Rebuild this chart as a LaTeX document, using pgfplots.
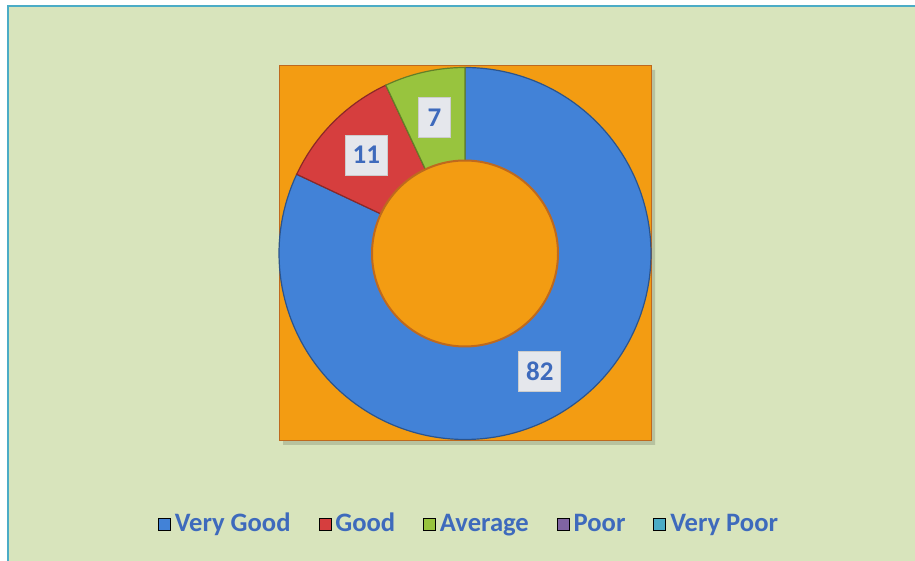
\documentclass[border=0pt]{standalone}
\usepackage{pgfplots}
\pgfplotsset{compat=1.18}
\usepackage{fontspec}
\setmainfont{Carlito}

\definecolor{bggreen}{RGB}{216,228,188}
\definecolor{frameteal}{RGB}{75,172,198}
\definecolor{plotorange}{RGB}{243,156,18}
\definecolor{orangeedge}{RGB}{190,105,30}
\definecolor{vgblue}{RGB}{66,130,215}
\definecolor{gred}{RGB}{214,62,62}
\definecolor{agreen}{RGB}{152,196,62}
\definecolor{ppurple}{RGB}{128,100,162}
\definecolor{vpcyan}{RGB}{75,172,198}
\definecolor{txtblue}{RGB}{62,106,188}
\definecolor{boxgray}{RGB}{229,231,236}

% values (percent), clockwise from 12 o'clock
\def\vVG{82}
\def\vG{11}
\def\vA{7}
% donut geometry in pixel units
\def\cx{465}
\def\cy{307.5}
\def\ro{186}
\def\ri{93}

\begin{document}
\begin{tikzpicture}
\pgfmathsetmacro{\aA}{90}
\pgfmathsetmacro{\aB}{90-3.6*\vVG}
\pgfmathsetmacro{\aC}{\aB-3.6*\vG}
\pgfmathsetmacro{\aD}{\aC-3.6*\vA}
\pgfmathsetmacro{\rm}{(\ro+\ri)/2}
\pgfmathsetmacro{\mVGx}{\cx+\rm*cos((\aA+\aB)/2)}
\pgfmathsetmacro{\mVGy}{\cy+\rm*sin((\aA+\aB)/2)}
\pgfmathsetmacro{\mGx}{\cx+\rm*cos((\aB+\aC)/2)}
\pgfmathsetmacro{\mGy}{\cy+\rm*sin((\aB+\aC)/2)}
\pgfmathsetmacro{\mAx}{\cx+\rm*cos((\aC+\aD)/2)}
\pgfmathsetmacro{\mAy}{\cy+\rm*sin((\aC+\aD)/2)}
\begin{axis}[
  x=0.5pt, y=0.5pt, scale only axis,
  xmin=0, xmax=915, ymin=0, ymax=561,
  enlargelimits=false,
  hide axis,
  legend style={at={(axis cs:470,37)}, anchor=center, draw=none, fill=none,
    legend columns=5, text=txtblue,
    font=\bfseries\fontsize{13.3}{15}\selectfont,
    /tikz/every even column/.append style={column sep=12pt}},
  lsq/.style={legend image code/.code={\fill[##1] (0pt,-3pt) rectangle (6pt,3pt);}},
]
% page background and frame
\addplot[forget plot, fill=white, draw=none] coordinates {(0,0) (915,0) (915,561) (0,561) (0,0)};
\addplot[forget plot, fill=bggreen, draw=none] coordinates {(8,0) (915,0) (915,555) (8,555) (8,0)};
\addplot[forget plot, draw=frameteal, line width=1.2pt] coordinates {(8,0) (8,555) (915,555)};
% plot area
\addplot[forget plot, fill=black, fill opacity=0.15, draw=none] coordinates {(283,116) (655,116) (655,491) (283,491) (283,116)};
\addplot[forget plot, fill=plotorange, draw=orangeedge, line width=0.5pt] coordinates {(279,120) (651,120) (651,495) (279,495) (279,120)};
% wedges
\addplot[forget plot, fill=vgblue, draw=vgblue!65!black, line width=0.6pt, domain=\aB:\aA, samples=150]
  ({\cx+\ro*cos(x)}, {\cy+\ro*sin(x)}) -- (axis cs:\cx,\cy) -- cycle;
\addplot[forget plot, fill=gred, draw=gred!65!black, line width=0.6pt, domain=\aC:\aB, samples=40]
  ({\cx+\ro*cos(x)}, {\cy+\ro*sin(x)}) -- (axis cs:\cx,\cy) -- cycle;
\addplot[forget plot, fill=agreen, draw=agreen!65!black, line width=0.6pt, domain=\aD:\aC, samples=30]
  ({\cx+\ro*cos(x)}, {\cy+\ro*sin(x)}) -- (axis cs:\cx,\cy) -- cycle;
% hole
\addplot[forget plot, fill=plotorange, draw=orangeedge, line width=1pt, domain=0:360, samples=150]
  ({\cx+\ri*cos(x)}, {\cy+\ri*sin(x)});
% data labels
\node[fill=boxgray, draw=gray!40, line width=0.3pt, minimum width=21pt, minimum height=20pt, inner sep=0pt,
  text=txtblue, font=\bfseries\fontsize{13.5}{15}\selectfont] at (axis cs:\mVGx,\mVGy) {\vVG};
\node[fill=boxgray, draw=gray!40, line width=0.3pt, minimum width=21pt, minimum height=20pt, inner sep=0pt,
  text=txtblue, font=\bfseries\fontsize{13.5}{15}\selectfont] at (axis cs:\mGx,\mGy) {\vG};
\node[fill=boxgray, draw=gray!40, line width=0.3pt, minimum width=16pt, minimum height=20pt, inner sep=0pt,
  text=txtblue, font=\bfseries\fontsize{13.5}{15}\selectfont] at (axis cs:\mAx,\mAy) {\vA};
% legend
\addlegendimage{lsq, fill=vgblue}
\addlegendentry{Very Good}
\addlegendimage{lsq, fill=gred}
\addlegendentry{Good}
\addlegendimage{lsq, fill=agreen}
\addlegendentry{Average}
\addlegendimage{lsq, fill=ppurple}
\addlegendentry{Poor}
\addlegendimage{lsq, fill=vpcyan}
\addlegendentry{Very Poor}
\end{axis}
\end{tikzpicture}
\end{document}
